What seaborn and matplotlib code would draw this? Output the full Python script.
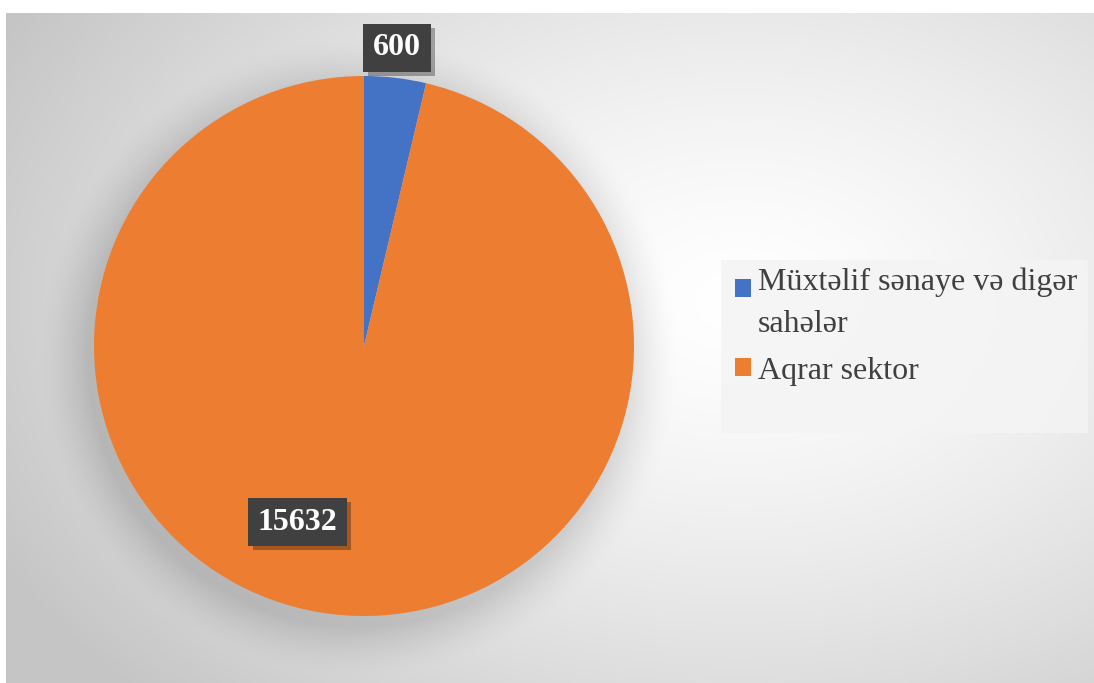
import numpy as np
import matplotlib
matplotlib.use("Agg")
import matplotlib.pyplot as plt
import matplotlib.patheffects as pe
from matplotlib.patches import Patch, Rectangle
from matplotlib.legend_handler import HandlerPatch
import seaborn as sns

# ---- data ----
categories = ["Müxtəlif sənaye və digər\nsahələr", "Aqrar sektor"]
values = [600, 15632]
value_labels = ["600", "15632"]
colors = ["#4472C4", "#ED7D31"]

sns.set_theme(style="white")
plt.rcParams['font.family'] = ['Liberation Serif', 'DejaVu Serif']

W, H = 1094, 683
fig = plt.figure(figsize=(W / 100, H / 100), dpi=100, facecolor="white")

# ---- background (radial gradient + soft pie shadow) ----
bx0, by_top = 6, 13
bg_ax = fig.add_axes([bx0 / W, 0, (W - bx0) / W, (H - by_top) / H])
bw, bh = W - bx0, H - by_top
yy, xx = np.mgrid[0:bh, 0:bw]
cx, cy = 740 - bx0, 300 - by_top
r = np.sqrt(((xx - cx) / 760.0) ** 2 + ((yy - cy) / 520.0) ** 2)
gray = 255 - 58 * np.clip(r, 0, 1.1) ** 1.4 / 1.1 ** 1.4
# pie soft shadow
pcx, pcy, pr = 364 - bx0 - 6, 346 - by_top + 10, 270
d = np.sqrt((xx - pcx) ** 2 + (yy - pcy) ** 2) - pr
shadow = np.clip(1 - d / 50.0, 0, 1) ** 1.5 * 30
gray = gray - shadow
img = np.dstack([gray, gray, gray]) / 255.0
bg_ax.imshow(img, aspect="auto", interpolation="bilinear")
bg_ax.set_axis_off()

# ---- pie ----
cxp, cyp, R = 364, 346, 270
ax = fig.add_axes([(cxp - R) / W, (H - cyp - R) / H, 2 * R / W, 2 * R / H])
ax.pie(values, colors=colors, startangle=90, counterclock=False,
       radius=1.0, wedgeprops=dict(linewidth=0))
ax.set_xlim(-1, 1)
ax.set_ylim(-1, 1)
ax.set_aspect("equal")
ax.set_axis_off()

# data labels
label_pos = [(0.122, 1.105), (-0.245, -0.652)]
for (lx, ly), txt in zip(label_pos, value_labels):
    t = ax.text(lx, ly, txt, ha="center", va="center", fontsize=23,
                fontweight="bold", color="white",
                bbox=dict(boxstyle="square,pad=0.3", facecolor="#404040",
                          edgecolor="none"), zorder=5)
    t.get_bbox_patch().set_path_effects(
        [pe.SimplePatchShadow(offset=(3, -3), shadow_rgbFace="black", alpha=0.3),
         pe.Normal()])

# ---- legend ----
lx0, ly0, lx1, ly1 = 721, 260, 1088, 433
fig.patches.append(Rectangle((lx0 / W, 1 - ly1 / H), (lx1 - lx0) / W, (ly1 - ly0) / H,
                             transform=fig.transFigure, facecolor="#f4f4f4",
                             alpha=0.85, edgecolor="none", zorder=1))


def top_aligned(legend, orig_handle, xdescent, ydescent, width, height, fontsize):
    return Rectangle((-xdescent, -ydescent + 10.5), width, height)


handles = [Patch(facecolor=c, edgecolor="none") for c in colors]
leg = fig.legend(handles, categories, loc="upper left",
                 bbox_to_anchor=((lx0 + 8) / W, 1 - (ly0 + 1) / H),
                 frameon=False, fontsize=23, labelcolor="#404040",
                 handlelength=0.5, handleheight=0.5, handletextpad=0.2,
                 labelspacing=0.55, borderpad=0.2, borderaxespad=0,
                 handler_map={handles[0]: HandlerPatch(patch_func=top_aligned)})
for t in leg.get_texts():
    t.set_linespacing(1.6)

fig.savefig("out.png", dpi=100, facecolor="white")
